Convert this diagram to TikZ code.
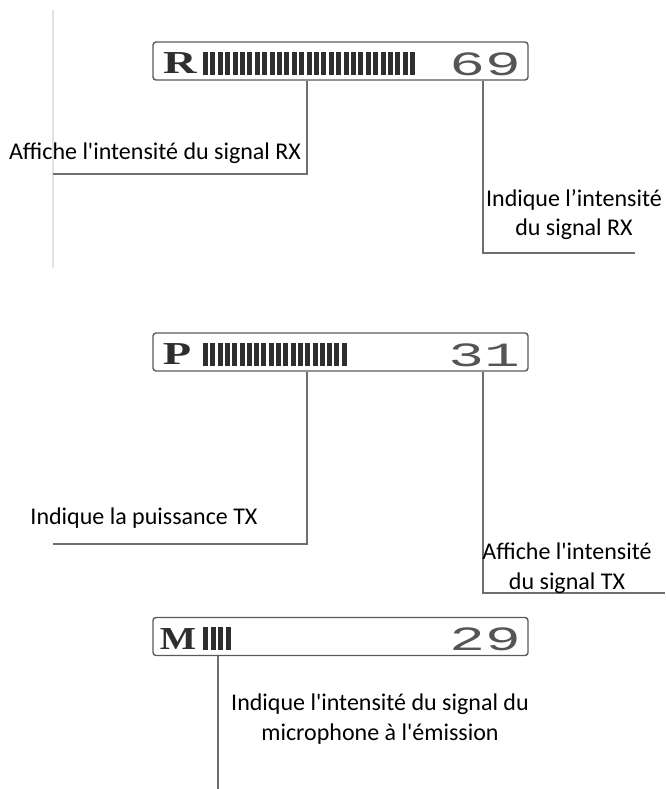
\documentclass[tikz,border=0pt]{standalone}
\usepackage{fontspec}
\setmainfont{Carlito}[Ligatures=TeXOff]
\newfontfamily\lcdfont{Liberation Mono}
\newfontfamily\lcdserif{Liberation Serif}
\definecolor{linec}{HTML}{6E6E6E}
\definecolor{boxc}{HTML}{5A5A5A}
\definecolor{barc}{HTML}{2E2E2E}
\definecolor{digc}{HTML}{555555}
\definecolor{faint}{HTML}{DCE4EA}
\tikzset{
  lcd/.style={draw=boxc, line width=1.4pt, rounded corners=3pt, minimum width=375pt, minimum height=38pt, inner sep=0pt},
  callout/.style={draw=linec, line width=1.3pt},
  lbl/.style={font=\fontsize{24}{29.5}\selectfont, align=center, inner sep=0pt, text=black},
  lcdletter/.style={font=\lcdserif\bfseries\fontsize{32}{32}\selectfont, text=barc, inner sep=0pt},
  lcddigit/.style={font=\lcdfont\fontsize{34}{34}\selectfont, text=digc, inner sep=0pt},
  bar/.style={fill=barc}
}
\begin{document}
\begin{tikzpicture}[x=1pt,y=-1pt]
\useasboundingbox (0,0) rectangle (665,789);
\fill[white] (0,0) rectangle (665,789);
% faint scan edge
\draw[faint, line width=1.5pt] (53,10) -- (53,268);

% ---------- box 1 ----------
\node[lcd] (box1) at (340.5,61) {};
\node[lcdletter] (r1) at (180,63.5) {\scalebox{1.45}[1]{R}};
\foreach \i in {0,...,28} \fill[bar] (203+\i*7.4,52) rectangle ++(5,23);
\node[lcddigit] (d1) at (485,64) {\scalebox{1.75}[1]{69}};

\coordinate (c1a) at (307,174);
\coordinate (e1a) at (53,174);
\draw[callout] (box1.south -| c1a) -- (c1a) -- (e1a);
\node[lbl] (t1) at (155,153) {Affiche l'intensité du signal RX};

\coordinate (c1b) at (483,253);
\coordinate (e1b) at (635,253);
\draw[callout] (box1.south -| c1b) -- (c1b) -- (e1b);
\node[lbl] (t2) at (574,214.5) {Indique l’intensité\\du signal RX};

% ---------- box 2 ----------
\node[lcd] (box2) at (340.5,352) {};
\node[lcdletter] (r2) at (177,354.5) {\scalebox{1.45}[1]{P}};
\foreach \i in {0,...,19} \fill[bar] (203+\i*7.3,343) rectangle ++(5,23);
\node[lcddigit] (d2) at (484,355) {\scalebox{1.75}[1]{31}};

\coordinate (c2a) at (307,544);
\coordinate (e2a) at (53,544);
\draw[callout] (box2.south -| c2a) -- (c2a) -- (e2a);
\node[lbl] (t3) at (144,518) {Indique la puissance TX};

\coordinate (c2b) at (483,593);
\coordinate (e2b) at (665,593);
\draw[callout] (box2.south -| c2b) -- (c2b) -- (e2b);
\node[lbl] (t4) at (567,568) {Affiche l'intensité\\du signal TX};

% ---------- box 3 ----------
\node[lcd] (box3) at (340.5,636.5) {};
\node[lcdletter] (r3) at (178,639) {\scalebox{1.2}[1]{M}};
\foreach \i in {0,...,3} \fill[bar] (203+\i*7.5,627) rectangle ++(5,23);
\node[lcddigit] (d3) at (485,639.5) {\scalebox{1.75}[1]{29}};

\coordinate (e3) at (218,789);
\draw[callout] (box3.south -| e3) -- (e3);
\node[lbl] (t5) at (380,719) {Indique l'intensité du signal du\\microphone à l'émission};
\end{tikzpicture}
\end{document}
